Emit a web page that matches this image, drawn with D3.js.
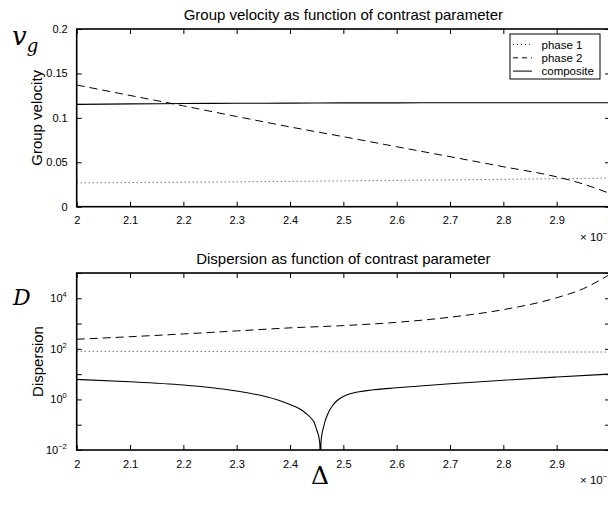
<!DOCTYPE html>
<html>
<head>
<meta charset="utf-8">
<script src="https://cdn.jsdelivr.net/npm/d3@7"></script>
<style>
  html, body { margin: 0; padding: 0; background: #fff; }
  svg { display: block; }
  text { font-family: "Liberation Sans", Arial, Helvetica, sans-serif; fill: #000; }
</style>
</head>
<body>
<svg id="chart" width="608" height="505"></svg>
<script>
// ---------------- data ----------------
const xTickValues = [2.0, 2.1, 2.2, 2.3, 2.4, 2.5, 2.6, 2.7, 2.8, 2.9, 3.0];
const xTickLabels = ["2", "2.1", "2.2", "2.3", "2.4", "2.5", "2.6", "2.7", "2.8", "2.9", "3"];
const vgTickValues = [0, 0.05, 0.1, 0.15, 0.2];
const vgTickLabels = ["0", "0.05", "0.1", "0.15", "0.2"];
const dispTickValues = [1e-2, 1e-1, 1e0, 1e1, 1e2, 1e3, 1e4, 1e5];
const dispTickLabelExp = ["-2", "0", "2", "4"];

// top panel: group velocity (x in units of 1e-3)
const vgX        = [2.0, 2.1, 2.2, 2.3, 2.4, 2.5, 2.6, 2.7, 2.8, 2.9, 2.95, 3.0];
const vgPhase1   = [0.0268, 0.0272, 0.0276, 0.0280, 0.0285, 0.0290, 0.0296, 0.0302, 0.0308, 0.0315, 0.0318, 0.0322];
const vgPhase2   = [0.1370, 0.1252, 0.1135, 0.1015, 0.0898, 0.0788, 0.0675, 0.0563, 0.0450, 0.0336, 0.0255, 0.0148];
const vgComposite= [0.1152, 0.1157, 0.1161, 0.1164, 0.1166, 0.1168, 0.1169, 0.1170, 0.1170, 0.1170, 0.1170, 0.1169];

// bottom panel: dispersion (log scale)
const dX         = [2.0, 2.1, 2.2, 2.3, 2.4, 2.5, 2.6, 2.7, 2.8, 2.9, 2.95, 3.0];
const dPhase1    = [80, 79, 79, 78, 78, 77, 77, 76, 76, 75, 75, 75];
const dPhase2    = [240, 302, 389, 513, 676, 832, 1120, 1780, 3550, 10500, 24000, 89000];
const dCompX     = [2.0, 2.1, 2.2, 2.25, 2.3, 2.35, 2.38, 2.4, 2.42, 2.43, 2.44, 2.445, 2.45, 2.454, 2.456, 2.457,
                    2.458, 2.46, 2.4625, 2.465, 2.47, 2.475, 2.48, 2.4875, 2.495, 2.5, 2.51, 2.52, 2.53, 2.55,
                    2.6, 2.65, 2.7, 2.8, 2.9, 3.0];
const dComposite = [6.2, 5.0, 3.7, 2.95, 2.15, 1.36, 0.91, 0.63, 0.40, 0.277, 0.176, 0.128, 0.062, 0.033, 0.016, 0.0005,
                    0.018, 0.0445, 0.0755, 0.122, 0.242, 0.40, 0.575, 0.866, 1.14, 1.30, 1.59, 1.83, 2.02, 2.32,
                    2.88, 3.48, 4.15, 5.75, 7.7, 10.1];

const legendLabels = ["phase 1", "phase 2", "composite"];

// ---------------- layout ----------------
const svg = d3.select("#chart");
const L = 76.7, R = 610;
const P1 = { top: 29, bottom: 206.7 };
const P2 = { top: 273, bottom: 450 };

const x = d3.scaleLinear().domain([2, 3]).range([L, R]);
const y1 = d3.scaleLinear().domain([0, 0.2]).range([P1.bottom, P1.top]);
const y2 = d3.scaleLog().domain([1e-2, 1e5]).range([P2.bottom, P2.top]);

const styles = {
  phase1: { dash: "1,3", color: "#333", width: 1 },
  phase2: { dash: "8,5", color: "#000", width: 1 },
  composite: { dash: null, color: "#000", width: 1.1 }
};

const defs = svg.append("defs");
[["clip1", P1], ["clip2", P2]].forEach(([id, P]) => {
  defs.append("clipPath").attr("id", id)
    .append("rect").attr("x", L).attr("y", P.top).attr("width", R - L).attr("height", P.bottom - P.top);
});

function drawLine(g, xs, ys, yScale, st, clipId) {
  const line = d3.line()
    .x((d, i) => x(xs[i]))
    .y(d => yScale(d))
    .curve(d3.curveMonotoneX);
  g.append("path")
    .attr("d", line(ys))
    .attr("fill", "none")
    .attr("stroke", st.color)
    .attr("stroke-width", st.width)
    .attr("stroke-dasharray", st.dash)
    .attr("clip-path", `url(#${clipId})`);
}

function drawFrame(P, yScale, yTicks, yLabelFn) {
  const g = svg.append("g");
  const axB = d3.axisBottom(x).tickValues(xTickValues).tickSizeInner(-5).tickSizeOuter(0)
    .tickPadding(10).tickFormat((d, i) => xTickLabels[i]);
  const gb = g.append("g").attr("transform", `translate(0,${P.bottom})`).call(axB);
  gb.select(".domain").remove();
  gb.selectAll("line").attr("stroke", "#000");
  gb.selectAll("text").attr("font-size", 11).attr("font-family", "Liberation Sans, Arial, sans-serif");
  const axT = d3.axisTop(x).tickValues(xTickValues).tickSizeInner(-5).tickSizeOuter(0).tickFormat("");
  const gt = g.append("g").attr("transform", `translate(0,${P.top})`).call(axT);
  gt.select(".domain").remove();
  gt.selectAll("line").attr("stroke", "#000");
  const axL = d3.axisLeft(yScale).tickValues(yTicks).tickSizeInner(-5).tickSizeOuter(0)
    .tickPadding(9).tickFormat(yLabelFn);
  const gl = g.append("g").attr("transform", `translate(${L},0)`).call(axL);
  gl.select(".domain").remove();
  gl.selectAll("line").attr("stroke", "#000");
  gl.selectAll("text").attr("font-size", 11).attr("font-family", "Liberation Sans, Arial, sans-serif");
  const axR = d3.axisRight(yScale).tickValues(yTicks).tickSizeInner(-5).tickSizeOuter(0).tickFormat("");
  const gr = g.append("g").attr("transform", `translate(${R},0)`).call(axR);
  gr.select(".domain").remove();
  gr.selectAll("line").attr("stroke", "#000");
  g.append("rect").attr("x", L).attr("y", P.top).attr("width", R - L).attr("height", P.bottom - P.top)
    .attr("fill", "none").attr("stroke", "#000").attr("stroke-width", 1.6);
  return g;
}

// ---------------- top panel ----------------
const g1 = svg.append("g");
drawLine(g1, vgX, vgPhase1, y1, styles.phase1, "clip1");
drawLine(g1, vgX, vgPhase2, y1, styles.phase2, "clip1");
drawLine(g1, vgX, vgComposite, y1, styles.composite, "clip1");
drawFrame(P1, y1, vgTickValues, (d, i) => vgTickLabels[i]);

// ---------------- bottom panel ----------------
const g2 = svg.append("g");
drawLine(g2, dX, dPhase1, y2, styles.phase1, "clip2");
drawLine(g2, dX, dPhase2, y2, styles.phase2, "clip2");
drawLine(g2, dCompX, dComposite, y2, styles.composite, "clip2");
drawFrame(P2, y2, dispTickValues, () => "");
dispTickValues.forEach(v => {
  const e = Math.round(Math.log10(v));
  if (!dispTickLabelExp.includes(String(e))) return;
  const t = svg.append("text").attr("x", L - 10).attr("y", y2(v) + 4)
    .attr("text-anchor", "end").attr("font-size", 11);
  t.append("tspan").text("10");
  t.append("tspan").attr("dy", -5).attr("font-size", 7.5).text(e < 0 ? "\u2212" + (-e) : String(e));
});

// ---------------- titles / labels ----------------
svg.append("text").attr("x", (L + R) / 2).attr("y", 20).attr("text-anchor", "middle")
  .attr("font-size", 15).text("Group velocity as function of contrast parameter");
svg.append("text").attr("x", (L + R) / 2).attr("y", 263.5).attr("text-anchor", "middle")
  .attr("font-size", 15).text("Dispersion as function of contrast parameter");

svg.append("text").attr("transform", `translate(42,${(P1.top + P1.bottom) / 2}) rotate(-90)`)
  .attr("text-anchor", "middle").attr("font-size", 15).text("Group velocity");
svg.append("text").attr("transform", `translate(42.5,${(P2.top + P2.bottom) / 2}) rotate(-90)`)
  .attr("text-anchor", "middle").attr("font-size", 15).text("Dispersion");

// multiplier labels
[P1.bottom + 34, P2.bottom + 34].forEach(yy => {
  const t = svg.append("text").attr("x", 580).attr("y", yy).attr("font-size", 11.5);
  t.append("tspan").text("\u00d7 10");
  t.append("tspan").attr("dy", -5).attr("font-size", 8).text("\u22123");
});

// math symbols
const vg = svg.append("text").attr("x", 12).attr("y", 45)
  .style("font-family", "'DejaVu Serif', 'Liberation Serif', serif").style("font-style", "italic")
  .attr("font-size", 26);
vg.append("tspan").text("v");
vg.append("tspan").attr("dy", 7).attr("font-size", 18).text("g");

svg.append("text").attr("x", 13).attr("y", 305)
  .style("font-family", "'DejaVu Serif', 'Liberation Serif', serif").style("font-style", "italic")
  .attr("font-size", 22).text("D");

svg.append("text").attr("x", 320).attr("y", 484).attr("text-anchor", "middle")
  .style("font-family", "'DejaVu Serif', 'Liberation Serif', serif")
  .attr("font-size", 25).text("\u0394");

// ---------------- legend ----------------
const lg = svg.append("g");
lg.append("rect").attr("x", 510).attr("y", 34).attr("width", 90).attr("height", 45)
  .attr("fill", "#fff").attr("stroke", "#000").attr("stroke-width", 1);
const legendStyles = [styles.phase1, styles.phase2, styles.composite];
const legendDash = ["1,3", "5,4", null];
legendLabels.forEach((lab, i) => {
  const yy = 44.5 + i * 13.3;
  lg.append("line").attr("x1", 513).attr("x2", 532).attr("y1", yy).attr("y2", yy)
    .attr("stroke", legendStyles[i].color).attr("stroke-width", 1)
    .attr("stroke-dasharray", legendDash[i]);
  lg.append("text").attr("x", 541.5).attr("y", yy + 4).attr("font-size", 11.5).text(lab);
});
</script>
</body>
</html>
